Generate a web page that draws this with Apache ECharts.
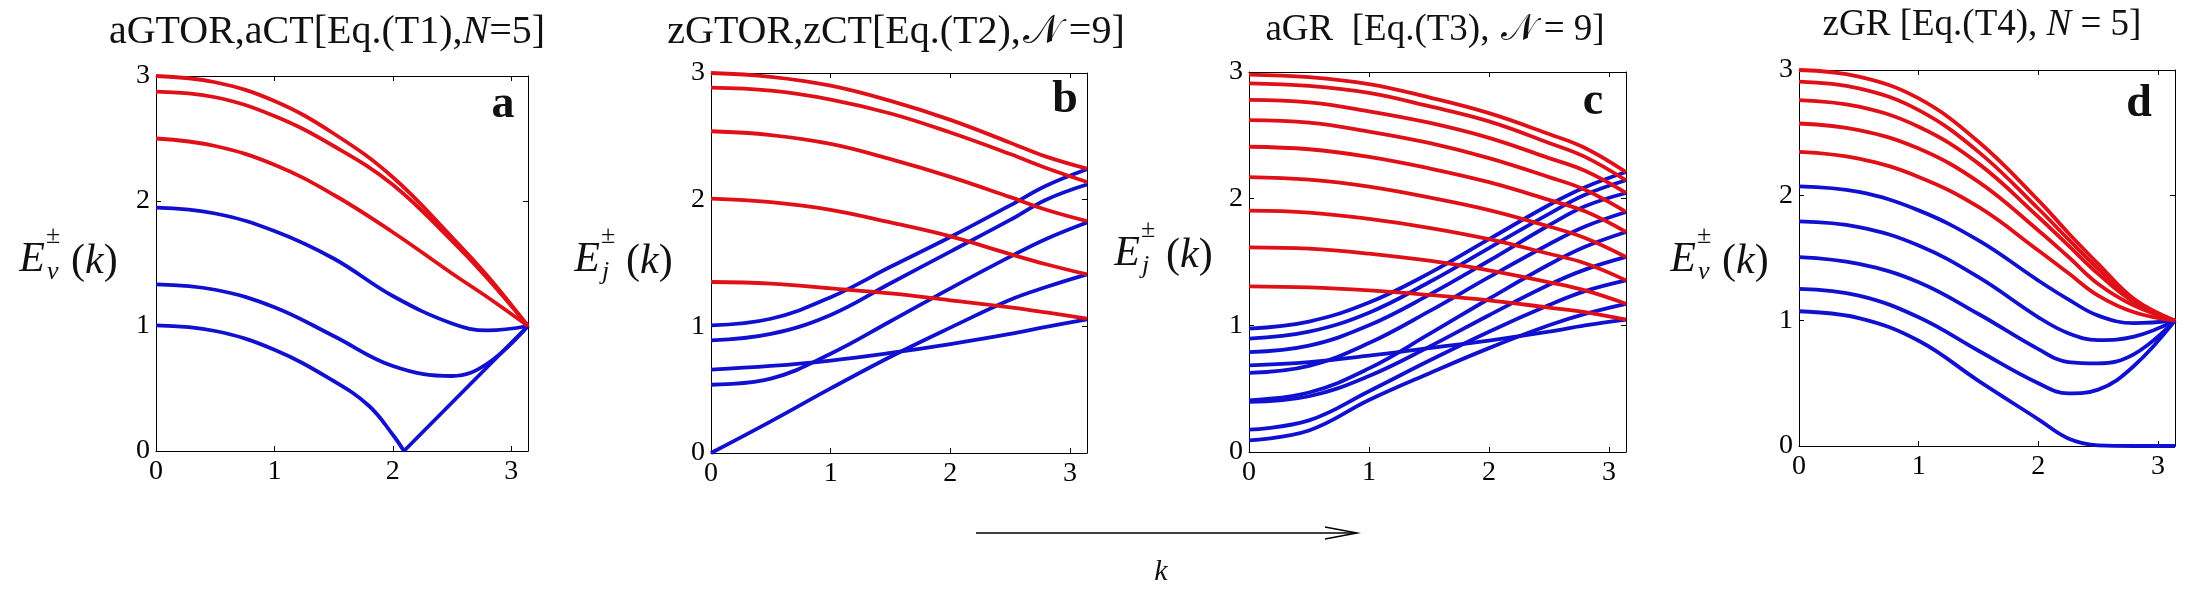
<!DOCTYPE html>
<html>
<head>
<meta charset="utf-8">
<title>E(k) bands</title>
<script src="https://cdn.jsdelivr.net/npm/echarts@6/dist/echarts.min.js"></script>
<style>
    html, body { margin: 0; padding: 0; background: #fff; }
    #main { width: 2194px; height: 600px; }
</style>
</head>
<body>
<div id="main"></div>
<script>
var PI = 3.1416;

//k取值点 (a, b, c 面板)
var kGrid = [0, 0.5, 1, 1.5, 2, 2.5, 2.8, PI];
//d 面板多一个点, 极小值附近
var kGridD = [0, 0.5, 1, 1.5, 2, 2.25, 2.5, 2.8, PI];

//刻度
var xTickLabels = ['0', '1', '2', '3'];
var yTickLabels = ['0', '1', '2', '3'];

//面板 a
var aRed = [
    [3.0, 2.95, 2.80, 2.54, 2.19, 1.71, 1.40, 1.0],
    [2.875, 2.83, 2.68, 2.44, 2.13, 1.68, 1.38, 1.0],
    [2.50, 2.44, 2.29, 2.05, 1.75, 1.42, 1.23, 1.0]
];
var aBlue = [
    [1.947, 1.90, 1.76, 1.54, 1.24, 1.02, 0.965, 1.0],
    [1.333, 1.29, 1.15, 0.92, 0.68, 0.60, 0.70, 1.0]
];
//最下面一条有尖点
var aDipK = [0, 0.5, 1, 1.5, 1.8, 2.0, 2.094];
var aDipE = [1.005, 0.96, 0.81, 0.56, 0.36, 0.13, 0];
var aRiseK = [2.094, PI];
var aRiseE = [0, 1.0];

//面板 b
var bRed = [
    [3.0, 2.97, 2.90, 2.78, 2.63, 2.45, 2.34, 2.245],
    [2.884, 2.86, 2.79, 2.68, 2.53, 2.36, 2.25, 2.14],
    [2.54, 2.51, 2.44, 2.32, 2.18, 2.02, 1.92, 1.83],
    [2.008, 1.98, 1.92, 1.82, 1.71, 1.57, 1.49, 1.41],
    [1.35, 1.337, 1.30, 1.26, 1.205, 1.15, 1.11, 1.06]
];
var bBlue = [
    [1.008, 1.06, 1.23, 1.47, 1.705, 1.955, 2.11, 2.24],
    [0.889, 0.94, 1.09, 1.34, 1.59, 1.84, 2.0, 2.12],
    [0.539, 0.587, 0.784, 1.04, 1.30, 1.55, 1.69, 1.82],
    [0, 0.25, 0.51, 0.76, 0.99, 1.21, 1.31, 1.41],
    [0.658, 0.687, 0.73, 0.79, 0.86, 0.94, 0.995, 1.055]
];

//面板 c
var cRed = [
    [2.98, 2.96, 2.905, 2.80, 2.675, 2.51, 2.40, 2.21],
    [2.91, 2.89, 2.835, 2.73, 2.61, 2.44, 2.33, 2.145],
    [2.78, 2.76, 2.69, 2.60, 2.48, 2.32, 2.22, 2.045],
    [2.62, 2.60, 2.53, 2.44, 2.32, 2.17, 2.07, 1.895],
    [2.41, 2.39, 2.33, 2.24, 2.13, 1.99, 1.90, 1.737],
    [2.17, 2.15, 2.095, 2.01, 1.91, 1.78, 1.69, 1.54],
    [1.905, 1.89, 1.84, 1.77, 1.68, 1.565, 1.49, 1.355],
    [1.616, 1.605, 1.566, 1.51, 1.434, 1.34, 1.276, 1.17],
    [1.308, 1.30, 1.276, 1.24, 1.197, 1.14, 1.105, 1.045]
];
var cBlue = [
    [0.974, 1.03, 1.18, 1.41, 1.68, 1.95, 2.09, 2.21],
    [0.895, 0.95, 1.10, 1.34, 1.61, 1.88, 2.03, 2.145],
    [0.789, 0.84, 1.00, 1.24, 1.51, 1.79, 1.94, 2.045],
    [0.684, 0.71, 0.76, 0.82, 0.88, 0.95, 1.00, 1.045],
    [0.624, 0.68, 0.86, 1.11, 1.38, 1.64, 1.78, 1.895],
    [0.408, 0.47, 0.66, 0.93, 1.21, 1.48, 1.62, 1.737],
    [0.395, 0.44, 0.60, 0.83, 1.08, 1.32, 1.44, 1.54],
    [0.176, 0.25, 0.48, 0.72, 0.95, 1.16, 1.27, 1.355],
    [0.092, 0.17, 0.41, 0.62, 0.82, 1.0, 1.09, 1.17]
];

//面板 d
var dRed = [
    [3.0, 2.947, 2.773, 2.427, 1.96, 1.70, 1.453, 1.173, 1.0],
    [2.907, 2.853, 2.68, 2.347, 1.893, 1.65, 1.413, 1.16, 1.0],
    [2.76, 2.707, 2.547, 2.253, 1.827, 1.60, 1.373, 1.147, 1.0],
    [2.573, 2.52, 2.373, 2.107, 1.72, 1.51, 1.293, 1.12, 1.0],
    [2.347, 2.293, 2.147, 1.907, 1.56, 1.38, 1.20, 1.067, 1.0]
];
var dBlue = [
    [2.072, 2.027, 1.88, 1.64, 1.32, 1.17, 1.04, 0.98, 1.0],
    [1.792, 1.747, 1.60, 1.347, 1.027, 0.90, 0.845, 0.872, 1.0],
    [1.507, 1.453, 1.307, 1.053, 0.773, 0.67, 0.659, 0.733, 1.0],
    [1.253, 1.20, 1.027, 0.76, 0.50, 0.42, 0.45, 0.64, 1.0],
    [1.075, 1.021, 0.84, 0.52, 0.213, 0.06, 0.005, 0, 0]
];

var RED = '#e01018';
var BLUE = '#1010d0';
var SERIF = "'Liberation Serif', 'Times New Roman', Times, 'DejaVu Serif', 'Noto Serif', serif";

//四个坐标区
var panels = [
    {left: 156, top: 76, width: 372, height: 375},
    {left: 711, top: 73, width: 376, height: 380},
    {left: 1249, top: 72, width: 377, height: 380},
    {left: 1799, top: 70, width: 376, height: 376}
];

function tickFmt(labels) {
    return function (v) {
        var r = Math.round(v);
        if (Math.abs(v - r) > 1e-6) return '';
        return labels[r] || '';
    };
}

function init_axes(grids, xAxes, yAxes) {
    for (var i = 0; i < panels.length; i++) {
        var p = panels[i];
        grids.push({left: p.left, top: p.top, width: p.width, height: p.height, show: false});
        var line = {show: true, onZero: false, lineStyle: {color: '#000', width: 1}};
        var tick = {show: true, inside: true, length: 5, lineStyle: {color: '#000', width: 1}};
        //下, 上
        xAxes.push({
            type: 'value', gridIndex: i, position: 'bottom', min: 0, max: PI, interval: 1,
            axisLine: line, axisTick: tick, splitLine: {show: false},
            axisLabel: {formatter: tickFmt(xTickLabels), color: '#000', fontFamily: SERIF, fontSize: 28, margin: 7}
        });
        xAxes.push({
            type: 'value', gridIndex: i, position: 'top', min: 0, max: PI, interval: 1,
            axisLine: line, axisTick: tick, splitLine: {show: false}, axisLabel: {show: false}
        });
        //左, 右
        yAxes.push({
            type: 'value', gridIndex: i, position: 'left', min: 0, max: 3, interval: 1,
            axisLine: line, axisTick: tick, splitLine: {show: false},
            axisLabel: {formatter: tickFmt(yTickLabels), color: '#000', fontFamily: SERIF, fontSize: 28, margin: 6}
        });
        yAxes.push({
            type: 'value', gridIndex: i, position: 'right', min: 0, max: 3, interval: 1,
            axisLine: line, axisTick: tick, splitLine: {show: false}, axisLabel: {show: false}
        });
    }
}

function curve(ks, es, color, idx, smooth) {
    var data = [];
    for (var i = 0; i < ks.length; i++) {
        data.push([ks[i], es[i]]);
    }
    return {
        type: 'line', xAxisIndex: idx * 2, yAxisIndex: idx * 2,
        data: data, smooth: smooth, showSymbol: false, clip: false,
        lineStyle: {color: color, width: 3.8}, silent: true,
        z: color === RED ? 3 : 2
    };
}

function get_series() {
    var s = [];
    var sets = [
        [kGrid, aBlue, BLUE, 0], [kGrid, aRed, RED, 0],
        [kGrid, bBlue, BLUE, 1], [kGrid, bRed, RED, 1],
        [kGrid, cBlue, BLUE, 2], [kGrid, cRed, RED, 2],
        [kGridD, dBlue, BLUE, 3], [kGridD, dRed, RED, 3]
    ];
    for (var i = 0; i < sets.length; i++) {
        for (var j = 0; j < sets[i][1].length; j++) {
            s.push(curve(sets[i][0], sets[i][1][j], sets[i][2], sets[i][3], 0.4));
        }
    }
    s.push(curve(aDipK, aDipE, BLUE, 0, 0.4));
    s.push(curve(aRiseK, aRiseE, BLUE, 0, false));
    return s;
}

function txt(x, y, text, font, align) {
    return {
        type: 'text', x: x, y: y, silent: true,
        style: {text: text, font: font, fill: '#111', align: align || 'left', verticalAlign: 'middle',
            textAlign: align || 'left', textVerticalAlign: 'middle'}
    };
}

function richTitle(x, y, text, size) {
    return {
        type: 'text', x: x, y: y, silent: true,
        style: {
            text: text, fontSize: size, fontFamily: SERIF, fill: '#111',
            align: 'center', verticalAlign: 'middle', textAlign: 'center', textVerticalAlign: 'middle',
            rich: {
                n: {fontSize: size, fontFamily: SERIF, color: '#111'},
                i: {fontSize: size, fontFamily: SERIF, fontStyle: 'italic', color: '#111'},
                s: {fontSize: size, fontFamily: SERIF, color: '#111', padding: [0, 8, 0, 2]}
            }
        }
    };
}

//纵轴名称 E^±_sub(k)
function eLabel(x, y, sub, subX) {
    return [
        txt(subX - 1, y, 'E', 'italic 42px ' + SERIF, 'right'),
        txt(subX, y - 24, '\u00b1', '26px ' + SERIF),
        txt(subX + 1, y + 12, sub, 'italic 26px ' + SERIF),
        {
            type: 'text', x: subX + 25, y: y + 2, silent: true,
            style: {
                text: '({k|k})', fontSize: 42, fontFamily: SERIF, fill: '#111',
                align: 'left', verticalAlign: 'middle', textAlign: 'left', textVerticalAlign: 'middle',
                rich: {k: {fontSize: 42, fontFamily: SERIF, fontStyle: 'italic', color: '#111'}}
            }
        }
    ];
}

function get_graphic() {
    var g = [];
    g.push(richTitle(327, 32, '{n|aGTOR,aCT[Eq.(T1),}{i|N}{n|=5]}', 40));
    g.push(richTitle(896, 32, '{n|zGTOR,zCT[Eq.(T2),}{s|\ud835\udca9}{n|=9]}', 40));
    g.push(richTitle(1435, 30, '{n|aGR  [Eq.(T3), }{s|\ud835\udca9}{n|= 9]}', 37));
    g.push(richTitle(1982, 25, '{n|zGR [Eq.(T4), }{i|N}{n| = 5]}', 37));

    var bold = 'bold 46px ' + SERIF;
    g.push(txt(503, 105, 'a', bold, 'center'));
    g.push(txt(1065, 100, 'b', bold, 'center'));
    g.push(txt(1593, 102, 'c', bold, 'center'));
    g.push(txt(2139, 104, 'd', bold, 'center'));

    g = g.concat(eLabel(14, 260, '\u03bd', 46));
    g = g.concat(eLabel(569, 260, 'j', 601));
    g = g.concat(eLabel(1111, 254, 'j', 1141));
    g = g.concat(eLabel(1668, 260, '\u03bd', 1697));

    //k 方向箭头
    g.push({type: 'line', silent: true, shape: {x1: 976, y1: 533, x2: 1356, y2: 533},
        style: {stroke: '#000', lineWidth: 1.5}});
    g.push({type: 'polyline', silent: true, shape: {points: [[1325, 527], [1357, 533], [1325, 539]]},
        style: {stroke: '#000', lineWidth: 1.5, fill: null}});
    g.push(txt(1161, 572, 'k', 'italic 30px ' + SERIF, 'center'));
    return g;
}

var chart = echarts.init(document.getElementById('main'), null, {renderer: 'canvas'});
var grids = [], xAxes = [], yAxes = [];
init_axes(grids, xAxes, yAxes);
var option = {
    backgroundColor: '#fff',
    animation: false,
    grid: grids,
    xAxis: xAxes,
    yAxis: yAxes,
    series: get_series(),
    graphic: get_graphic()
};
chart.setOption(option);
</script>
</body>
</html>
